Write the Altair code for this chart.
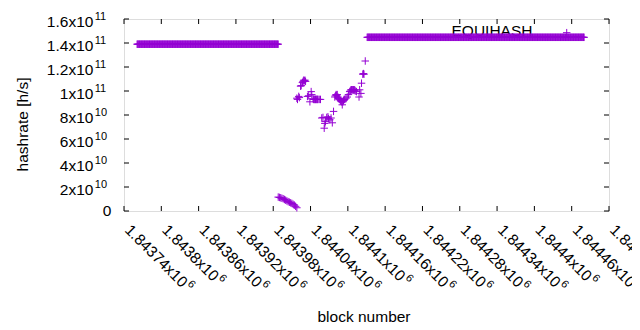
import altair as alt
import pandas as pd

# ---------------- data ----------------
# flat run before the drop (one point per block)
run1_first, run1_last = 1843761, 1843988
run1_value = 1.39e11
# flat run after the recovery
run3_first, run3_last = 1844131, 1844480
run3_value = 1.4475e11

# falling tail after the first run
tail_blocks = [1843988, 1843990, 1843992, 1843994, 1843996, 1843998, 1844000, 1844002,
               1844004, 1844006, 1844008, 1844010, 1844012, 1844014, 1844016, 1844018]
tail_values = [1.16e10, 1.13e10, 1.10e10, 1.06e10, 1.02e10, 9.6e9, 9.0e9, 8.4e9,
               7.8e9, 7.3e9, 6.8e9, 6.3e9, 5.6e9, 4.9e9, 3.9e9, 2.7e9]

# scattered points in the middle
mid_blocks = [1844018, 1844019, 1844021, 1844022, 1844024, 1844025, 1844027, 1844028,
              1844029, 1844030, 1844031, 1844032, 1844035, 1844037, 1844039, 1844041,
              1844042, 1844044, 1844045, 1844046, 1844047, 1844048, 1844049, 1844050,
              1844051, 1844052, 1844054, 1844056, 1844058, 1844060, 1844062, 1844063,
              1844064, 1844066, 1844068, 1844069, 1844071, 1844073, 1844075, 1844077,
              1844079, 1844080, 1844081, 1844082, 1844083, 1844084, 1844085, 1844086,
              1844087, 1844088, 1844089, 1844090, 1844091, 1844092, 1844093, 1844094,
              1844095, 1844097, 1844099, 1844101, 1844103, 1844104, 1844105, 1844106,
              1844107, 1844108, 1844109, 1844110, 1844111, 1844112, 1844114, 1844118,
              1844119, 1844121, 1844122, 1844124, 1844125, 1844126, 1844128]
mid_values = [9.4e10, 9.3e10, 9.55e10, 9.45e10, 1.04e11, 1.045e11, 1.07e11, 1.08e11,
              1.09e11, 1.085e11, 1.09e11, 1.08e11, 9.55e10, 9.6e10, 9.1e10, 9.95e10,
              9.7e10, 9.35e10, 9.3e10, 9.3e10, 9.3e10, 9.3e10, 9.3e10, 9.3e10,
              9.3e10, 9.3e10, 9.3e10, 9.3e10, 7.75e10, 7.8e10, 6.9e10, 7.3e10,
              7.45e10, 7.8e10, 7.85e10, 7.7e10, 7.6e10, 7.75e10, 7.35e10, 8.3e10,
              9.5e10, 9.6e10, 9.7e10, 9.65e10, 9.7e10, 9.5e10, 9.4e10, 9.35e10,
              9.3e10, 9.2e10, 9.15e10, 9.1e10, 8.85e10, 9.1e10, 9.2e10, 9.3e10,
              9.3e10, 9.4e10, 9.5e10, 9.7e10, 9.95e10, 1.0e11, 1.01e11, 1.01e11,
              1.01e11, 1.01e11, 1.01e11, 1.005e11, 1.01e11, 1.0e11, 9.95e10, 9.5e10,
              1.01e11, 9.8e10, 1.065e11, 1.14e11, 1.145e11, 1.14e11, 1.25e11]

# lone point above the second run
extra_blocks = [1844452]
extra_values = [1.486e11]

# tick labels
x_ticks = [1843740, 1843800, 1843860, 1843920, 1843980, 1844040, 1844100,
           1844160, 1844220, 1844280, 1844340, 1844400, 1844460, 1844520]
x_main = ["1.84374x10", "1.8438x10", "1.84386x10", "1.84392x10", "1.84398x10",
          "1.84404x10", "1.8441x10", "1.84416x10", "1.84422x10", "1.84428x10",
          "1.84434x10", "1.8444x10", "1.84446x10", "1.84452x10"]
x_exp = ["6"] * 14

y_ticks = [0, 2e10, 4e10, 6e10, 8e10, 1e11, 1.2e11, 1.4e11, 1.6e11]
y_main = ["0", "2x10", "4x10", "6x10", "8x10", "1x10", "1.2x10", "1.4x10", "1.6x10"]
y_exp = ["", "10", "10", "10", "10", "11", "11", "11", "11"]

x_domain = [1843740, 1844520]
y_domain = [0, 1.6e11]

# ---------------- tables ----------------
blocks = (list(range(run1_first, run1_last + 1)) + tail_blocks + mid_blocks
          + list(range(run3_first, run3_last + 1)) + extra_blocks)
values = ([run1_value] * (run1_last - run1_first + 1) + tail_values + mid_values
          + [run3_value] * (run3_last - run3_first + 1) + extra_values)
pts = pd.DataFrame({"block": blocks, "hashrate": values})
xt = pd.DataFrame({"tick": x_ticks, "main": x_main, "exp": x_exp})
yt = pd.DataFrame({"tick": y_ticks, "main": y_main, "exp": y_exp})

W, H = 485, 192
FONT = "Liberation Sans"
FS = 15.5
FE = 11
PURPLE = "#9400d3"

xs = alt.Scale(domain=x_domain, nice=False, zero=False)
ys = alt.Scale(domain=y_domain, nice=False, zero=False)
X = lambda f: alt.X(f, type="quantitative", scale=xs, axis=None)
Y = lambda f: alt.Y(f, type="quantitative", scale=ys, axis=None)

legend_text = alt.Chart(pd.DataFrame({"t": ["EQUIHASH"]})).mark_text(
    font=FONT, fontSize=FS, align="left", baseline="middle", color="black"
).encode(text="t:N", x=alt.value(327.5), y=alt.value(12))

plus = "M-1,0L1,0M0,-1L0,1"
points = alt.Chart(pts).mark_point(
    shape=plus, size=56, filled=False, strokeWidth=1, color=PURPLE, opacity=1
).encode(x=X("block"), y=Y("hashrate"))

# inward ticks on all four sides
xt_bottom = alt.Chart(xt).mark_rule(color="black", strokeWidth=1).encode(
    x=X("tick"), y=alt.value(H - 5), y2=alt.value(H))
xt_top = alt.Chart(xt).mark_rule(color="black", strokeWidth=1).encode(
    x=X("tick"), y=alt.value(0), y2=alt.value(5))
yt_left = alt.Chart(yt).mark_rule(color="black", strokeWidth=1).encode(
    y=Y("tick"), x=alt.value(0), x2=alt.value(5))
yt_right = alt.Chart(yt).mark_rule(color="black", strokeWidth=1).encode(
    y=Y("tick"), x=alt.value(W - 5), x2=alt.value(W))

# y tick labels (with raised exponent)
y_lab_main = alt.Chart(yt).transform_filter("datum.exp != ''").mark_text(
    font=FONT, fontSize=FS, align="right", baseline="alphabetic", dy=7.7, color="black"
).encode(y=Y("tick"), x=alt.value(-30.6), text="main:N")
y_lab_exp = alt.Chart(yt).transform_filter("datum.exp != ''").mark_text(
    font=FONT, fontSize=FE, align="left", baseline="alphabetic", dy=1, color="black"
).encode(y=Y("tick"), x=alt.value(-29.2), text="exp:N")
y_lab_zero = alt.Chart(yt).transform_filter("datum.exp == ''").mark_text(
    font=FONT, fontSize=FS, align="right", baseline="alphabetic", dy=5.3, color="black"
).encode(y=Y("tick"), x=alt.value(-12.6), text="main:N")

# x tick labels, rotated, with raised exponent
x_lab_main = alt.Chart(xt).mark_text(
    font=FONT, fontSize=FS, align="left", baseline="alphabetic", angle=45, color="black"
).encode(x=X("tick"), y=alt.value(H + 20), text="main:N")
x_lab_exp_long = alt.Chart(xt).transform_filter("length(datum.main) == 10").mark_text(
    font=FONT, fontSize=FE, align="left", baseline="alphabetic", angle=45,
    dx=82.5, dy=-6.7, color="black"
).encode(x=X("tick"), y=alt.value(H + 20), text="exp:N")
x_lab_exp_short = alt.Chart(xt).transform_filter("length(datum.main) == 9").mark_text(
    font=FONT, fontSize=FE, align="left", baseline="alphabetic", angle=45,
    dx=74, dy=-6.7, color="black"
).encode(x=X("tick"), y=alt.value(H + 20), text="exp:N")

# axis titles
x_title = alt.Chart(pd.DataFrame({"t": ["block number"]})).mark_text(
    font=FONT, fontSize=FS, align="center", baseline="alphabetic", color="black"
).encode(text="t:N", x=alt.value(240), y=alt.value(302.5))
y_title = alt.Chart(pd.DataFrame({"t": ["hashrate [h/s]"]})).mark_text(
    font=FONT, fontSize=FS, align="center", baseline="alphabetic", angle=270, color="black"
).encode(text="t:N", x=alt.value(-96), y=alt.value(105.5))

chart = alt.layer(
    legend_text, points, xt_bottom, xt_top, yt_left, yt_right,
    y_lab_main, y_lab_exp, y_lab_zero,
    x_lab_main, x_lab_exp_long, x_lab_exp_short,
    x_title, y_title,
).properties(
    width=W, height=H,
    autosize=alt.AutoSizeParams(type="none"),
    padding={"left": 116, "top": 11, "right": 23, "bottom": 111},
).configure_view(stroke="black", strokeWidth=1).configure(background="white")

chart.save("out.html", embed_options={"renderer": "svg", "actions": False})
